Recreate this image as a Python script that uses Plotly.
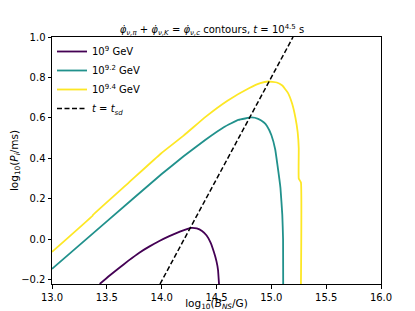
import plotly.graph_objects as go

# Data
purple_x = [13.435, 13.52, 13.606, 13.70, 13.793, 13.886, 13.979, 14.07, 14.166, 14.23, 14.274, 14.32, 14.368, 14.41, 14.446, 14.477, 14.50, 14.514, 14.523]
purple_y = [-0.2218, -0.182, -0.145, -0.105, -0.068, -0.037, -0.009, 0.015, 0.037, 0.050, 0.056, 0.053, 0.040, 0.018, -0.017, -0.065, -0.110, -0.153, -0.2218]

teal_x = [13.0, 13.5, 14.0, 14.2, 14.4, 14.57, 14.7, 14.82, 14.88, 14.93, 14.96, 15.0, 15.035, 15.055, 15.083, 15.1, 15.107, 15.108]
teal_y = [-0.147, 0.088, 0.322, 0.410, 0.492, 0.555, 0.590, 0.602, 0.595, 0.578, 0.560, 0.515, 0.445, 0.370, 0.254, 0.120, 0.0, -0.2218]

yellow_x = [13.0, 13.37, 13.375, 13.7, 13.994, 14.2, 14.4, 14.6, 14.8, 14.9, 14.97, 15.05, 15.1, 15.15, 15.19, 15.22, 15.24, 15.25, 15.25, 15.27, 15.27]
yellow_y = [-0.063, 0.116, 0.121, 0.280, 0.424, 0.512, 0.605, 0.685, 0.748, 0.772, 0.780, 0.775, 0.760, 0.725, 0.670, 0.600, 0.530, 0.450, 0.300, 0.280, -0.2218]

tsd_x = [13.985, 15.198]
tsd_y = [-0.2218, 1.0]

x_ticks = [13.0, 13.5, 14.0, 14.5, 15.0, 15.5, 16.0]
y_ticks = [-0.2, 0.0, 0.2, 0.4, 0.6, 0.8, 1.0]

labels = ["10<sup>9</sup> GeV", "10<sup>9.2</sup> GeV", "10<sup>9.4</sup> GeV",
          "<i>t</i> = <i>t</i><sub><i>sd</i></sub>"]
colors = ["#440154", "#21918c", "#fde725"]
title_text = ("<i>φ̇</i><sub><i>ν,π</i></sub> + <i>φ̇</i><sub><i>ν,K</i></sub> = <i>φ̇</i><sub><i>ν,c</i></sub>"
              " contours, <i>t</i> = 10<sup>4.5</sup> s")

fig = go.Figure()
for xs, ys, c, lab in zip([purple_x, teal_x, yellow_x], [purple_y, teal_y, yellow_y], colors, labels[:3]):
    fig.add_trace(go.Scatter(x=xs, y=ys, mode="lines", name=lab,
                             line=dict(color=c, width=1.8, shape="spline", smoothing=0.3)))
fig.add_trace(go.Scatter(x=tsd_x, y=tsd_y, mode="lines", name=labels[3],
                         line=dict(color="black", width=1.5, dash="5px,2.5px")))

axis_common = dict(showline=True, linecolor="black", linewidth=1, mirror=True,
                   ticks="outside", ticklen=3.5, tickwidth=1, tickcolor="black",
                   showgrid=False, zeroline=False, automargin=False,
                   tickfont=dict(family="DejaVu Sans", size=10, color="black"))

fig.update_layout(
    width=407, height=303,
    margin=dict(l=44, r=34, t=29, b=27),
    plot_bgcolor="white", paper_bgcolor="white",
    font=dict(family="DejaVu Sans", size=10, color="black"),
    title=dict(text=title_text,
               x=0.501, xanchor="center", xref="container",
               yref="paper", y=1.0, yanchor="bottom", pad=dict(b=4),
               font=dict(family="DejaVu Sans", size=10, color="black")),
    xaxis=dict(range=[13.0, 16.0], tickvals=x_ticks, ticktext=[f"{v:.1f}" for v in x_ticks],
               title=dict(text="log<sub>10</sub>(<i>B</i><sub><i>NS</i></sub>/G)", standoff=4,
                          font=dict(family="DejaVu Sans", size=10.5)), **axis_common),
    yaxis=dict(range=[-0.2218, 1.0], tickvals=y_ticks, ticktext=[f"{v:.1f}".replace("-", "\u2212") for v in y_ticks],
               title=dict(text="log<sub>10</sub>(<i>P</i><sub><i>i</i></sub>/ms)", standoff=0,
                          font=dict(family="DejaVu Sans", size=10.5)), **axis_common),
    legend=dict(x=0.0, y=1.0, xanchor="left", yanchor="top", bgcolor="rgba(255,255,255,0)",
                borderwidth=0, itemwidth=30, font=dict(family="DejaVu Sans", size=10),
                tracegroupgap=0),
    showlegend=True,
)

fig.write_html("out.html")
